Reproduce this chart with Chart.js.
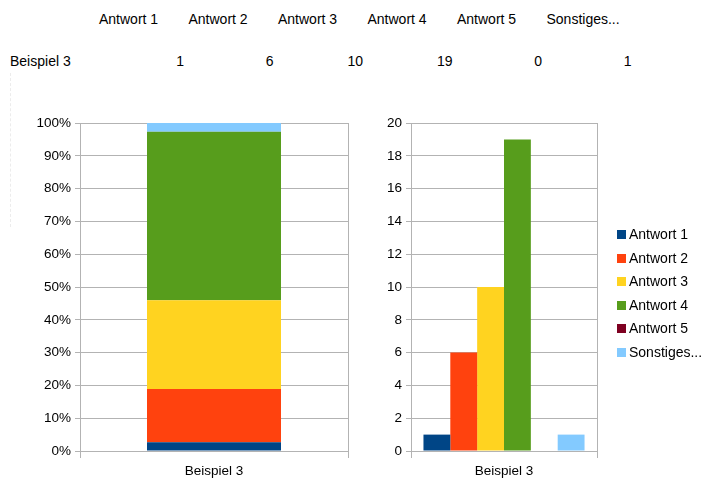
<!DOCTYPE html>
<html>
<head>
<meta charset="utf-8">
<script src="https://cdn.jsdelivr.net/npm/chart.js@4/dist/chart.umd.min.js"></script>
<style>
  html, body { margin: 0; padding: 0; background: #fff; }
  body { width: 701px; height: 484px; position: relative; overflow: hidden;
         font-family: 'Liberation Sans', Arial, sans-serif; color: #000; }
  .cell { position: absolute; font-size: 14px; line-height: 16px; white-space: nowrap; }
  .num { text-align: right; }
  #sheetLine { position: absolute; left: 10px; top: 73px; height: 154px; border-left: 1px dashed #ececec; }
  #pctChart { position: absolute; left: 0; top: 102px; }
  #cntChart { position: absolute; left: 360px; top: 102px; }
  .lg-item { position: absolute; font-size: 14px; line-height: 16px; white-space: nowrap; }
  .lg-box { position: absolute; left: 0; top: 4px; width: 9px; height: 9px; }
  .lg-text { position: absolute; left: 12px; top: 0; }
</style>
</head>
<body>
<div id="sheetLine"></div>
<div id="table"></div>
<canvas id="pctChart" width="360" height="382"></canvas>
<canvas id="cntChart" width="341" height="382"></canvas>
<div id="legend"></div>
<script>
// Survey answers for one example question
const categories = ['Beispiel 3'];
const answers = ['Antwort 1', 'Antwort 2', 'Antwort 3', 'Antwort 4', 'Antwort 5', 'Sonstiges...'];
const counts = [1, 6, 10, 19, 0, 1];
const colors = ['#004586', '#ff420e', '#ffd320', '#579d1c', '#7e0021', '#83caff'];

const total = counts.reduce((a, b) => a + b, 0);
const shares = counts.map(c => c / total * 100);

// Data table above the charts
const table = document.getElementById('table');
function addCell(text, cls, style) {
  const d = document.createElement('div');
  d.className = 'cell ' + cls;
  d.textContent = text;
  Object.assign(d.style, style);
  table.appendChild(d);
}
answers.forEach((a, i) => addCell(a, '', { left: (99 + 89.5 * i) + 'px', top: '11px' }));
addCell(categories[0], '', { left: '10px', top: '53px' });
counts.forEach((c, i) => addCell(String(c), 'num', { left: (104 + 89.5 * i) + 'px', width: '80px', top: '53px' }));

const gridColor = '#b3b3b3';
const font = { family: "'Liberation Sans', Arial, sans-serif", size: 13.5 };

function xScale() {
  return {
    grid: { color: gridColor, tickLength: 7, offset: true },
    border: { color: gridColor },
    ticks: { color: '#000', font, padding: 5 },
    afterFit: s => { s.height = 33; }
  };
}
function yScale(max, step, width, fmt) {
  return {
    min: 0, max,
    grid: { color: gridColor, tickLength: 5 },
    border: { color: gridColor },
    ticks: { color: '#000', font, padding: 4, stepSize: step, callback: fmt },
    afterFit: s => { s.width = width; }
  };
}

Chart.defaults.animation = false;

// 100 % stacked column
new Chart(document.getElementById('pctChart'), {
  type: 'bar',
  data: {
    labels: categories,
    datasets: answers.map((a, i) => ({
      label: a, data: [shares[i]], backgroundColor: colors[i],
      borderWidth: 0, categoryPercentage: 0.5, barPercentage: 1
    }))
  },
  options: {
    responsive: false,
    layout: { padding: { left: 0, right: 12, top: 21, bottom: 0 } },
    plugins: { legend: { display: false }, tooltip: { enabled: false } },
    scales: {
      x: Object.assign(xScale(), { stacked: true }),
      y: Object.assign(yScale(100, 10, 80, v => v + '%'), { stacked: true })
    }
  }
});

// Clustered column with counts
const cntChart = new Chart(document.getElementById('cntChart'), {
  type: 'bar',
  data: {
    labels: categories,
    datasets: answers.map((a, i) => ({
      label: a, data: [counts[i]], backgroundColor: colors[i],
      borderWidth: 0, categoryPercentage: 0.866, barPercentage: 1
    }))
  },
  options: {
    responsive: false,
    layout: { padding: { left: 0, right: 104, top: 21, bottom: 0 } },
    plugins: { legend: { display: false }, tooltip: { enabled: false } },
    scales: {
      x: xScale(),
      y: yScale(20, 2, 51, v => v)
    }
  }
});

// Legend built from the chart's own legend items
const legend = document.getElementById('legend');
const items = Chart.defaults.plugins.legend.labels.generateLabels(cntChart);
items.forEach((it, i) => {
  const row = document.createElement('div');
  row.className = 'lg-item';
  row.style.left = '617px';
  row.style.top = (226 + 23.6 * i) + 'px';
  const box = document.createElement('span');
  box.className = 'lg-box';
  box.style.background = it.fillStyle;
  const txt = document.createElement('span');
  txt.className = 'lg-text';
  txt.textContent = it.text;
  row.appendChild(box);
  row.appendChild(txt);
  legend.appendChild(row);
});
</script>
</body>
</html>
